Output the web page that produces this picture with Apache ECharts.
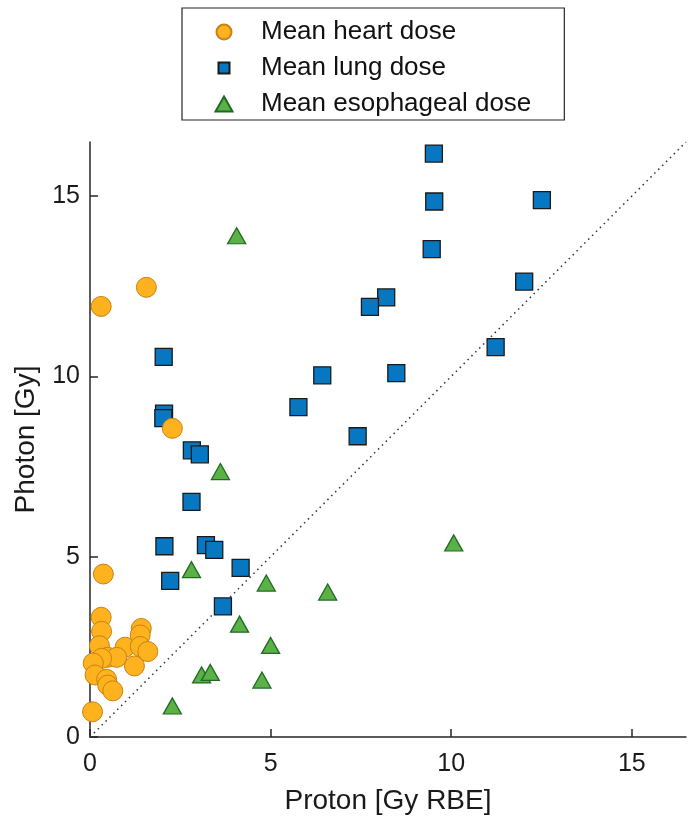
<!DOCTYPE html>
<html><head><meta charset="utf-8">
<script src="https://cdn.jsdelivr.net/npm/echarts@6/dist/echarts.min.js"></script>
<style>html,body{margin:0;padding:0;background:#fff}#c{width:692px;height:820px}</style>
</head><body><div id="c"></div>
<script>
const heartProton = [0.31,1.56,2.28,0.37,0.31,0.32,0.26,1.42,1.39,0.97,1.39,1.60,0.49,0.74,0.32,0.09,1.23,0.14,0.46,0.49,0.63,0.07];
const heartPhoton = [11.94,12.47,8.56,4.52,3.32,2.93,2.53,3.01,2.83,2.49,2.51,2.37,2.21,2.21,2.18,2.05,1.97,1.72,1.60,1.44,1.28,0.70];
const lungProton = [9.52,9.53,12.51,9.46,12.02,8.20,7.75,11.23,6.43,8.48,5.77,7.41,2.04,2.05,2.03,2.82,3.04,2.81,2.06,3.21,3.44,2.22,4.17,3.68];
const lungPhoton = [16.18,14.85,14.89,13.53,12.63,12.19,11.93,10.81,10.03,10.09,9.15,8.34,10.54,8.97,8.84,7.95,7.84,6.52,5.29,5.32,5.19,4.33,4.69,3.62];
const esoProton = [4.06,3.61,10.07,2.81,4.88,6.58,4.14,5.00,3.09,3.33,4.76,2.28];
const esoPhoton = [13.90,7.36,5.38,4.64,4.27,4.02,3.13,2.54,1.72,1.79,1.58,0.86];
const identityLine = [[0,0],[16.5,16.5]];
const seriesNames = ['Mean heart dose','Mean lung dose','Mean esophageal dose'];

const pair = (a,b) => a.map((v,i)=>[v,b[i]]);
const font = 'Liberation Sans, Arial, sans-serif';
const chart = echarts.init(document.getElementById('c'));
const axisCommon = {
  min: 0, max: 16.5, interval: 5,
  axisLine: {show: true, onZero: false, lineStyle: {color: '#262626', width: 1.5}},
  axisTick: {show: true, inside: true, length: 8, lineStyle: {color: '#262626', width: 1.5}},
  splitLine: {show: false},
  axisLabel: {color: '#1a1a1a', fontSize: 25, fontFamily: font, showMaxLabel: false},
  nameLocation: 'middle',
  nameTextStyle: {color: '#1a1a1a', fontSize: 28, fontFamily: font}
};
chart.setOption({
  animation: false,
  backgroundColor: '#fff',
  grid: {left: 90, right: 6, top: 142, bottom: 83, containLabel: false},
  xAxis: Object.assign({}, axisCommon, {type: 'value', name: 'Proton [Gy RBE]', nameGap: 50,
    axisLabel: Object.assign({}, axisCommon.axisLabel, {margin: 15})}),
  yAxis: Object.assign({}, axisCommon, {type: 'value', name: 'Photon [Gy]', nameGap: 50,
    axisLabel: Object.assign({}, axisCommon.axisLabel, {margin: 10})}),
  legend: {
    orient: 'vertical', left: 182, top: 8,
    padding: [11, 33, 3, 32.5],
    borderColor: '#262626', borderWidth: 1.2,
    itemWidth: 17, itemHeight: 15, itemGap: 10,
    textStyle: {fontSize: 26, fontFamily: font, color: '#111', padding: [0,0,0,23.5]},
    data: [
      {name: seriesNames[0], icon: 'circle'},
      {name: seriesNames[1], icon: 'path://M0,0M15,15M2,2H13V13H2Z'},
      {name: seriesNames[2], icon: 'triangle'}
    ]
  },
  series: [
    {type: 'line', data: identityLine, symbol: 'none', silent: true, z: 1,
     lineStyle: {type: [1.5, 4], color: '#333', width: 1.5}},
    {name: seriesNames[1], type: 'scatter', data: pair(lungProton, lungPhoton), symbol: 'rect', symbolSize: 17, z: 3,
     itemStyle: {color: '#0877C2', borderColor: '#1a1a1a', borderWidth: 1.3, opacity: 1}},
    {name: seriesNames[0], type: 'scatter', data: pair(heartProton, heartPhoton), symbol: 'circle', symbolSize: 20, z: 4,
     itemStyle: {color: '#FDB21E', borderColor: '#C98114', borderWidth: 1, opacity: 1}},
    {name: seriesNames[2], type: 'scatter', data: pair(esoProton, esoPhoton), symbol: 'triangle', symbolSize: [18, 16], z: 5,
     itemStyle: {color: '#5BB146', borderColor: '#1F6B25', borderWidth: 1.3, opacity: 1}}
  ]
});
</script></body></html>
